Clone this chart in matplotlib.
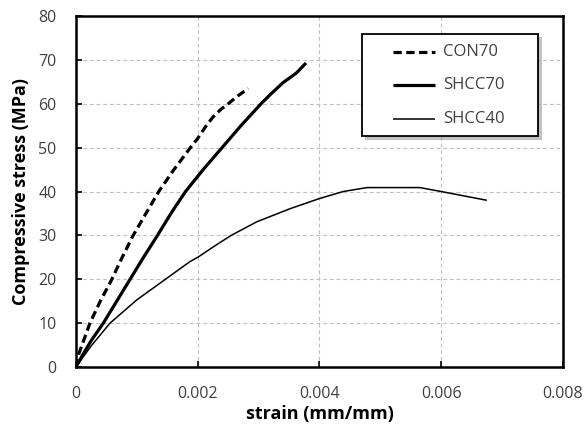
import matplotlib
matplotlib.use("Agg")
import matplotlib.pyplot as plt
from matplotlib.patches import Rectangle
from matplotlib.lines import Line2D

plt.rcParams['font.family'] = ['Open Sans', 'DejaVu Sans']

con70_strain = [0.0, 0.00001, 0.00010, 0.00023, 0.00040, 0.00059, 0.00076, 0.00094, 0.00115, 0.00136, 0.00161, 0.00188, 0.00200, 0.00212, 0.00224, 0.00237, 0.00250, 0.00266, 0.00283]
con70_stress = [0.0, 1.6, 5.0, 10.0, 15.0, 20.0, 25.0, 30.0, 35.0, 40.0, 45.0, 50.0, 52.1, 54.6, 56.8, 58.6, 60.0, 61.8, 63.5]

shcc70_strain = [0.0, 0.00010, 0.00025, 0.00045, 0.00067, 0.00089, 0.00111, 0.00134, 0.00156, 0.00180, 0.00209, 0.00240, 0.00271, 0.00304, 0.00320, 0.00340, 0.00362, 0.00378]
shcc70_stress = [0.0, 2.5, 6.0, 10.0, 15.0, 20.0, 25.0, 30.0, 35.0, 40.0, 45.0, 50.0, 55.0, 60.0, 62.2, 64.8, 67.0, 69.3]

shcc40_strain = [0.0, 0.00025, 0.00056, 0.00100, 0.00147, 0.00187, 0.00200, 0.00228, 0.00255, 0.00297, 0.00352, 0.00400, 0.00439, 0.00478, 0.00565, 0.00600, 0.00675]
shcc40_stress = [0.0, 4.8, 10.0, 15.3, 20.0, 24.0, 25.0, 27.6, 30.0, 33.1, 36.1, 38.4, 40.0, 40.9, 40.9, 40.0, 38.0]

x_ticks = [0, 0.002, 0.004, 0.006, 0.008]
x_tick_labels = ['0', '0.002', '0.004', '0.006', '0.008']
y_ticks = [0, 10, 20, 30, 40, 50, 60, 70, 80]

fig = plt.figure(figsize=(5.84, 4.28), dpi=100)
ax = fig.add_axes([0.130, 0.1425, 0.834, 0.820])

series = [
    ('CON70', con70_strain, con70_stress, dict(lw=2.3, ls=(0, (2.6, 1.4)))),
    ('SHCC70', shcc70_strain, shcc70_stress, dict(lw=2.3, ls='-')),
    ('SHCC40', shcc40_strain, shcc40_stress, dict(lw=1.1, ls='-')),
]
for name, xs, ys, st in series:
    ax.plot(xs, ys, color='black', solid_capstyle='butt', solid_joinstyle='round', **st)

ax.set_xlim(0, 0.008)
ax.set_ylim(0, 80)
ax.set_xticks(x_ticks)
ax.set_xticklabels(x_tick_labels)
ax.set_yticks(y_ticks)
ax.grid(True, color='#c0c0c0', ls=(0, (3.5, 2.5)), lw=0.8)
ax.set_axisbelow(True)
ax.tick_params(direction='in', length=4, width=1.2, labelsize=11.5, labelcolor='#404040')
ax.tick_params(axis='x', pad=14)
ax.tick_params(axis='y', pad=14)
for s in ax.spines.values():
    s.set_linewidth(1.8)
    s.set_color('black')

ax.set_xlabel('strain (mm/mm)', fontsize=13, fontweight='bold', labelpad=2)
ax.set_ylabel('Compressive stress (MPa)', fontsize=13, fontweight='bold', labelpad=6)

# legend box drawn manually (wide horizontal padding as in the reference)
bx0, bx1, by0, by1 = 0.587, 0.949, 0.658, 0.949
shadow = Rectangle((bx0 + 0.007, by0 - 0.010), bx1 - bx0, by1 - by0, transform=ax.transAxes,
                   facecolor='#9a9a9a', edgecolor='none', alpha=0.6, zorder=4)
box = Rectangle((bx0, by0), bx1 - bx0, by1 - by0, transform=ax.transAxes,
                facecolor='white', edgecolor='black', lw=1.3, zorder=5)
ax.add_patch(shadow)
ax.add_patch(box)
rows = [0.897, 0.803, 0.707]
for (name, xs, ys, st), ry in zip(series, rows):
    ax.add_line(Line2D([0.651, 0.737], [ry, ry], transform=ax.transAxes, color='black',
                       solid_capstyle='butt', zorder=6, **st))
    ax.text(0.754, ry, name, transform=ax.transAxes, fontsize=12, color='#404040',
            va='center', ha='left', zorder=6)

fig.savefig('out.png', dpi=100)
